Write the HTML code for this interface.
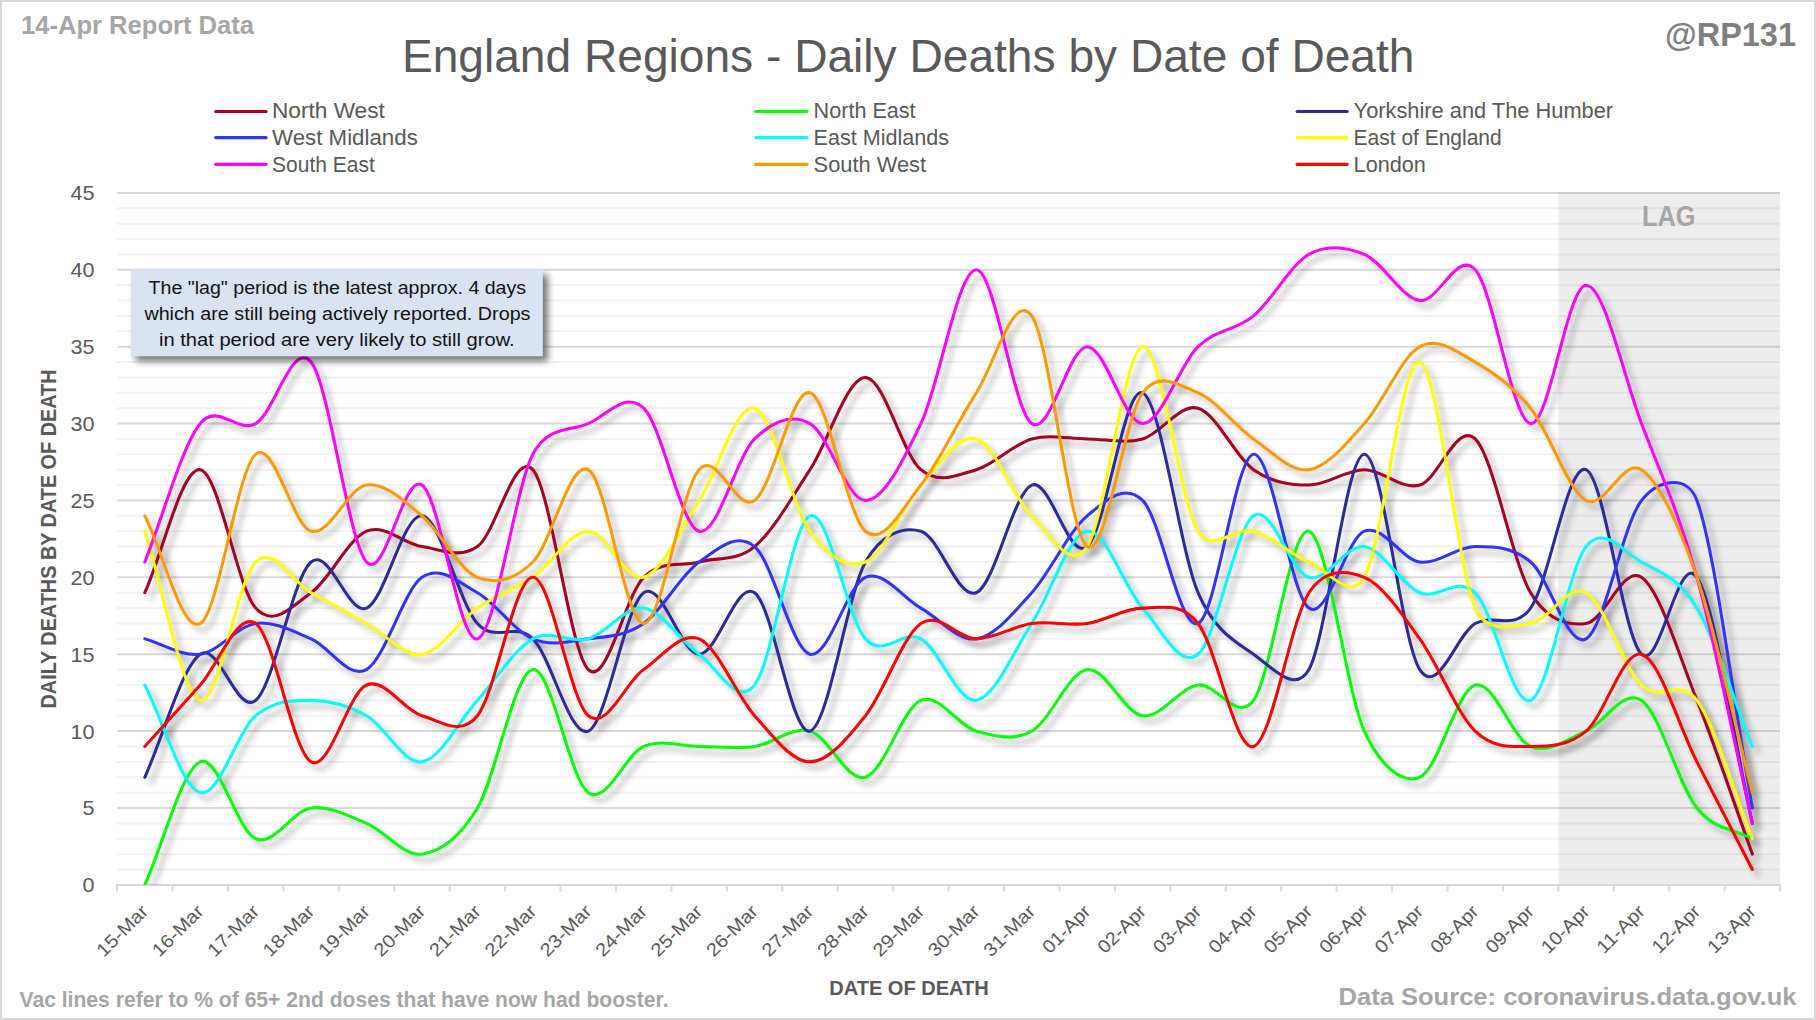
<!DOCTYPE html>
<html lang="en"><head><meta charset="utf-8"><title>England Regions - Daily Deaths by Date of Death</title>
<style>html,body{margin:0;padding:0;background:#fff;}body{width:1816px;height:1020px;overflow:hidden;}svg{display:block;}text{font-family:"Liberation Sans",sans-serif;}</style>
</head><body>
<svg width="1816" height="1020" viewBox="0 0 1816 1020">
<defs>
<filter id="sh" x="-5%" y="-5%" width="110%" height="115%" filterUnits="objectBoundingBox"><feGaussianBlur in="SourceAlpha" stdDeviation="3.3"/><feOffset dx="6" dy="5.5"/><feComponentTransfer><feFuncA type="linear" slope="0.31"/></feComponentTransfer></filter>
<filter id="boxsh" x="-10%" y="-20%" width="125%" height="150%"><feGaussianBlur in="SourceAlpha" stdDeviation="3.5"/><feOffset dx="5" dy="5"/><feComponentTransfer><feFuncA type="linear" slope="0.55"/></feComponentTransfer></filter>
</defs>
<rect x="0" y="0" width="1816" height="1020" fill="#FFFFFF"/>
<rect x="1" y="1" width="1814" height="1018" fill="none" stroke="#D9D9D9" stroke-width="2"/>
<path d="M117.1,869.52H1780.1 M117.1,854.14H1780.1 M117.1,838.77H1780.1 M117.1,823.39H1780.1 M117.1,792.63H1780.1 M117.1,777.26H1780.1 M117.1,761.88H1780.1 M117.1,746.50H1780.1 M117.1,715.74H1780.1 M117.1,700.37H1780.1 M117.1,684.99H1780.1 M117.1,669.61H1780.1 M117.1,638.86H1780.1 M117.1,623.48H1780.1 M117.1,608.10H1780.1 M117.1,592.72H1780.1 M117.1,561.97H1780.1 M117.1,546.59H1780.1 M117.1,531.21H1780.1 M117.1,515.83H1780.1 M117.1,485.08H1780.1 M117.1,469.70H1780.1 M117.1,454.32H1780.1 M117.1,438.94H1780.1 M117.1,408.19H1780.1 M117.1,392.81H1780.1 M117.1,377.43H1780.1 M117.1,362.06H1780.1 M117.1,331.30H1780.1 M117.1,315.92H1780.1 M117.1,300.54H1780.1 M117.1,285.17H1780.1 M117.1,254.41H1780.1 M117.1,239.03H1780.1 M117.1,223.66H1780.1 M117.1,208.28H1780.1" stroke="#F2F2F2" stroke-width="2" fill="none"/>
<path d="M117.1,808.01H1780.1 M117.1,731.12H1780.1 M117.1,654.23H1780.1 M117.1,577.34H1780.1 M117.1,500.46H1780.1 M117.1,423.57H1780.1 M117.1,346.68H1780.1 M117.1,269.79H1780.1 M117.1,192.90H1780.1" stroke="#D9D9D9" stroke-width="2" fill="none"/>
<rect x="1558.4" y="191.9" width="221.7" height="693.0" fill="#7F7F7F" fill-opacity="0.14"/>
<path d="M116.1,884.90H1781.1 M117.10,884.90V891.40 M172.53,884.90V891.40 M227.97,884.90V891.40 M283.40,884.90V891.40 M338.83,884.90V891.40 M394.27,884.90V891.40 M449.70,884.90V891.40 M505.13,884.90V891.40 M560.57,884.90V891.40 M616.00,884.90V891.40 M671.43,884.90V891.40 M726.87,884.90V891.40 M782.30,884.90V891.40 M837.73,884.90V891.40 M893.17,884.90V891.40 M948.60,884.90V891.40 M1004.03,884.90V891.40 M1059.47,884.90V891.40 M1114.90,884.90V891.40 M1170.33,884.90V891.40 M1225.77,884.90V891.40 M1281.20,884.90V891.40 M1336.63,884.90V891.40 M1392.07,884.90V891.40 M1447.50,884.90V891.40 M1502.93,884.90V891.40 M1558.37,884.90V891.40 M1613.80,884.90V891.40 M1669.23,884.90V891.40 M1724.67,884.90V891.40 M1780.10,884.90V891.40" stroke="#D9D9D9" stroke-width="2" fill="none"/>
<text x="1668.7" y="225.8" font-size="29" font-weight="bold" fill="#A6A6A6" text-anchor="middle" textLength="53.5" lengthAdjust="spacingAndGlyphs">LAG</text>
<clipPath id="plotclip"><rect x="115.1" y="152.9" width="1667.0" height="732.0"/></clipPath>
<g clip-path="url(#plotclip)">
<path d="M144.82,592.72 C163.29,551.71 181.77,467.14 200.25,469.70 C218.73,472.26 237.21,587.60 255.68,608.10 C274.16,628.60 292.64,605.54 311.12,592.72 C329.59,579.91 348.07,538.90 366.55,531.21 C385.03,523.52 403.51,544.03 421.98,546.59 C440.46,549.15 458.94,559.40 477.42,546.59 C495.89,533.77 514.37,449.20 532.85,469.70 C551.33,490.20 569.81,651.67 588.28,669.61 C606.76,687.55 625.24,595.29 643.72,577.34 C662.19,559.40 680.67,567.09 699.15,561.97 C717.63,556.84 736.11,561.97 754.58,546.59 C773.06,531.21 791.54,497.89 810.02,469.70 C828.49,441.51 846.97,377.43 865.45,377.43 C883.93,377.43 902.41,454.32 920.88,469.70 C939.36,485.08 957.84,474.83 976.32,469.70 C994.79,464.57 1013.27,444.07 1031.75,438.94 C1050.23,433.82 1068.71,438.94 1087.18,438.94 C1105.66,438.94 1124.14,444.07 1142.62,438.94 C1161.09,433.82 1179.57,403.06 1198.05,408.19 C1216.53,413.31 1235.01,456.89 1253.48,469.70 C1271.96,482.51 1290.44,485.08 1308.92,485.08 C1327.39,485.08 1345.87,469.70 1364.35,469.70 C1382.83,469.70 1401.31,490.20 1419.78,485.08 C1438.26,479.95 1456.74,421.00 1475.22,438.94 C1493.69,456.89 1512.17,561.97 1530.65,592.72 C1546.97,619.89 1567.61,626.04 1586.08,623.48 C1604.56,620.91 1623.04,564.53 1641.52,577.34 C1659.99,590.16 1678.47,654.23 1696.95,700.37 C1715.43,746.50 1733.91,802.89 1752.38,854.14" fill="none" stroke="#000" stroke-width="3.05" stroke-linecap="round" stroke-linejoin="round" filter="url(#sh)"/>
<path d="M144.82,884.90 C163.29,843.89 181.77,769.57 200.25,761.88 C218.73,754.19 237.21,831.08 255.68,838.77 C274.16,846.46 292.64,810.57 311.12,808.01 C329.59,805.45 348.07,815.70 366.55,823.39 C385.03,831.08 403.51,856.71 421.98,854.14 C440.46,851.58 458.94,838.77 477.42,808.01 C495.89,777.26 514.37,672.17 532.85,669.61 C551.33,667.05 569.81,779.82 588.28,792.63 C606.76,805.45 625.24,754.19 643.72,746.50 C662.19,738.81 680.67,746.50 699.15,746.50 C717.63,746.50 736.11,749.06 754.58,746.50 C773.06,743.94 791.54,726.00 810.02,731.12 C828.49,736.25 846.97,782.38 865.45,777.26 C883.93,772.13 902.41,708.06 920.88,700.37 C939.36,692.68 957.84,726.00 976.32,731.12 C994.79,736.25 1013.27,741.37 1031.75,731.12 C1050.23,720.87 1068.71,672.17 1087.18,669.61 C1105.66,667.05 1124.14,713.18 1142.62,715.74 C1161.09,718.31 1179.57,687.55 1198.05,684.99 C1216.53,682.43 1236.66,723.70 1253.48,700.37 C1271.96,674.74 1290.44,526.09 1308.92,531.21 C1327.39,536.34 1345.87,690.11 1364.35,731.12 C1379.16,764.00 1401.31,784.94 1419.78,777.26 C1438.26,769.57 1456.74,690.11 1475.22,684.99 C1493.69,679.86 1512.17,738.81 1530.65,746.50 C1549.13,754.19 1567.61,738.81 1586.08,731.12 C1604.56,723.43 1623.04,687.55 1641.52,700.37 C1659.99,713.18 1678.47,784.94 1696.95,808.01 C1715.43,831.08 1733.91,828.51 1752.38,838.77" fill="none" stroke="#000" stroke-width="3.05" stroke-linecap="round" stroke-linejoin="round" filter="url(#sh)"/>
<path d="M144.82,777.26 C163.29,736.25 181.77,667.05 200.25,654.23 C218.73,641.42 237.21,715.74 255.68,700.37 C274.16,684.99 292.64,577.34 311.12,561.97 C329.59,546.59 348.07,615.79 366.55,608.10 C385.03,600.41 403.51,513.27 421.98,515.83 C440.46,518.40 458.94,602.97 477.42,623.48 C495.89,643.98 514.37,620.91 532.85,638.86 C551.33,656.80 569.81,738.81 588.28,731.12 C606.76,723.43 625.24,605.54 643.72,592.72 C662.19,579.91 680.67,654.23 699.15,654.23 C717.63,654.23 736.11,579.91 754.58,592.72 C773.06,605.54 791.54,736.25 810.02,731.12 C828.49,726.00 846.97,595.29 865.45,561.97 C880.82,534.25 902.41,526.09 920.88,531.21 C939.36,536.34 957.84,600.41 976.32,592.72 C994.79,585.03 1013.27,492.77 1031.75,485.08 C1050.23,477.39 1068.71,561.97 1087.18,546.59 C1105.66,531.21 1124.14,385.12 1142.62,392.81 C1161.09,400.50 1179.57,549.15 1198.05,592.72 C1214.21,630.84 1235.01,641.42 1253.48,654.23 C1271.96,667.05 1294.97,694.77 1308.92,669.61 C1327.39,636.29 1345.87,454.32 1364.35,454.32 C1382.83,454.32 1401.31,641.42 1419.78,669.61 C1438.26,697.80 1456.74,633.73 1475.22,623.48 C1493.69,613.23 1513.83,631.43 1530.65,608.10 C1549.13,582.47 1567.61,462.01 1586.08,469.70 C1604.56,477.39 1623.04,636.29 1641.52,654.23 C1659.99,672.17 1678.47,549.15 1696.95,577.34 C1715.43,605.54 1733.91,741.37 1752.38,823.39" fill="none" stroke="#000" stroke-width="3.05" stroke-linecap="round" stroke-linejoin="round" filter="url(#sh)"/>
<path d="M144.82,638.86 C163.29,643.98 181.77,656.80 200.25,654.23 C218.73,651.67 237.21,626.04 255.68,623.48 C274.16,620.91 292.64,631.17 311.12,638.86 C329.59,646.54 348.07,679.86 366.55,669.61 C385.03,659.36 403.51,590.16 421.98,577.34 C440.46,564.53 458.94,582.47 477.42,592.72 C495.89,602.97 514.37,631.17 532.85,638.86 C551.33,646.54 569.81,641.42 588.28,638.86 C606.76,636.29 625.24,636.29 643.72,623.48 C662.19,610.66 680.67,574.78 699.15,561.97 C717.63,549.15 736.11,531.21 754.58,546.59 C773.06,561.97 791.54,649.11 810.02,654.23 C828.49,659.36 846.97,585.03 865.45,577.34 C883.93,569.66 902.41,597.85 920.88,608.10 C939.36,618.35 957.84,641.42 976.32,638.86 C994.79,636.29 1013.27,613.23 1031.75,592.72 C1050.23,572.22 1068.71,531.21 1087.18,515.83 C1105.66,500.46 1124.14,482.51 1142.62,500.46 C1161.09,518.40 1179.57,631.17 1198.05,623.48 C1216.53,615.79 1235.01,456.89 1253.48,454.32 C1271.96,451.76 1290.44,595.29 1308.92,608.10 C1327.39,620.91 1345.87,538.90 1364.35,531.21 C1382.83,523.52 1401.31,559.40 1419.78,561.97 C1438.26,564.53 1456.74,546.59 1475.22,546.59 C1493.69,546.59 1512.17,546.59 1530.65,561.97 C1549.13,577.34 1567.61,649.11 1586.08,638.86 C1604.56,628.60 1623.04,523.52 1641.52,500.46 C1658.85,478.82 1687.55,474.38 1696.95,500.46 C1715.43,551.71 1733.91,705.49 1752.38,808.01" fill="none" stroke="#000" stroke-width="3.05" stroke-linecap="round" stroke-linejoin="round" filter="url(#sh)"/>
<path d="M144.82,684.99 C163.29,720.87 181.77,787.51 200.25,792.63 C218.73,797.76 237.21,731.12 255.68,715.74 C274.16,700.37 292.64,700.37 311.12,700.37 C329.59,700.37 348.07,705.49 366.55,715.74 C385.03,726.00 403.51,764.44 421.98,761.88 C440.46,759.31 458.94,720.87 477.42,700.37 C495.89,679.86 514.37,649.11 532.85,638.86 C551.33,628.60 569.81,643.98 588.28,638.86 C606.76,633.73 625.24,605.54 643.72,608.10 C662.19,610.66 680.67,641.42 699.15,654.23 C717.63,667.05 736.11,708.06 754.58,684.99 C773.06,661.92 791.54,523.52 810.02,515.83 C828.49,508.14 846.97,618.35 865.45,638.86 C883.93,659.36 902.41,628.60 920.88,638.86 C939.36,649.11 957.84,702.93 976.32,700.37 C994.79,697.80 1013.27,651.67 1031.75,623.48 C1050.23,595.29 1068.71,533.77 1087.18,531.21 C1105.66,528.65 1124.14,587.60 1142.62,608.10 C1161.09,628.60 1179.57,669.61 1198.05,654.23 C1216.53,638.86 1235.01,528.65 1253.48,515.83 C1271.96,503.02 1290.44,572.22 1308.92,577.34 C1327.39,582.47 1345.87,544.03 1364.35,546.59 C1382.83,549.15 1401.31,585.03 1419.78,592.72 C1438.26,600.41 1456.74,574.78 1475.22,592.72 C1493.69,610.66 1512.17,708.06 1530.65,700.37 C1549.13,692.68 1567.61,569.66 1586.08,546.59 C1604.07,524.14 1623.04,551.71 1641.52,561.97 C1659.99,572.22 1678.47,577.34 1696.95,608.10 C1715.43,638.86 1733.91,700.37 1752.38,746.50" fill="none" stroke="#000" stroke-width="3.05" stroke-linecap="round" stroke-linejoin="round" filter="url(#sh)"/>
<path d="M144.82,531.21 C163.29,587.60 181.77,695.24 200.25,700.37 C218.73,705.49 237.21,579.91 255.68,561.97 C274.16,544.03 292.64,582.47 311.12,592.72 C329.59,602.97 348.07,613.23 366.55,623.48 C385.03,633.73 403.51,656.80 421.98,654.23 C440.46,651.67 458.94,620.91 477.42,608.10 C495.89,595.29 514.37,590.16 532.85,577.34 C551.33,564.53 569.81,531.21 588.28,531.21 C606.76,531.21 625.24,582.47 643.72,577.34 C662.19,572.22 680.67,528.65 699.15,500.46 C717.63,472.26 736.11,403.06 754.58,408.19 C773.06,413.31 791.54,505.58 810.02,531.21 C828.49,556.84 846.97,569.66 865.45,561.97 C883.93,554.28 902.41,505.58 920.88,485.08 C939.36,464.57 957.84,433.82 976.32,438.94 C994.79,444.07 1013.27,497.89 1031.75,515.83 C1050.23,533.77 1069.81,573.10 1087.18,546.59 C1105.66,518.40 1124.14,349.24 1142.62,346.68 C1161.09,344.11 1179.57,500.46 1198.05,531.21 C1212.32,554.97 1235.01,526.09 1253.48,531.21 C1271.96,536.34 1290.44,554.28 1308.92,561.97 C1327.39,569.66 1350.40,602.50 1364.35,577.34 C1382.83,544.03 1401.31,356.93 1419.78,362.06 C1438.26,367.18 1456.74,564.53 1475.22,608.10 C1486.45,634.58 1512.17,626.04 1530.65,623.48 C1549.13,620.91 1567.61,582.47 1586.08,592.72 C1604.56,602.97 1623.04,667.05 1641.52,684.99 C1659.99,702.93 1680.13,677.03 1696.95,700.37 C1715.43,726.00 1733.91,792.63 1752.38,838.77" fill="none" stroke="#000" stroke-width="3.05" stroke-linecap="round" stroke-linejoin="round" filter="url(#sh)"/>
<path d="M144.82,561.97 C163.29,515.83 181.77,446.63 200.25,423.57 C217.58,401.93 237.21,433.82 255.68,423.57 C274.16,413.31 292.64,338.99 311.12,362.06 C329.59,385.12 348.07,541.46 366.55,561.97 C385.03,582.47 403.51,472.26 421.98,485.08 C440.46,497.89 458.94,643.98 477.42,638.86 C495.89,633.73 514.37,490.20 532.85,454.32 C547.36,426.14 569.81,431.26 588.28,423.57 C606.76,415.88 625.24,390.25 643.72,408.19 C662.19,426.13 680.67,526.09 699.15,531.21 C717.63,536.34 736.11,456.89 754.58,438.94 C773.06,421.00 791.54,413.31 810.02,423.57 C828.49,433.82 846.97,500.46 865.45,500.46 C883.93,500.46 902.41,462.01 920.88,423.57 C939.36,385.12 957.84,269.79 976.32,269.79 C994.79,269.79 1013.27,410.75 1031.75,423.57 C1050.23,436.38 1068.71,346.68 1087.18,346.68 C1105.66,346.68 1124.14,423.57 1142.62,423.57 C1161.09,423.57 1179.57,364.62 1198.05,346.68 C1216.53,328.74 1235.01,331.30 1253.48,315.92 C1271.96,300.54 1290.44,264.66 1308.92,254.41 C1327.39,244.16 1345.87,246.72 1364.35,254.41 C1382.83,262.10 1401.31,297.98 1419.78,300.54 C1438.26,303.11 1456.74,249.29 1475.22,269.79 C1493.69,290.29 1512.17,421.00 1530.65,423.57 C1549.13,426.13 1567.61,285.17 1586.08,285.17 C1604.56,285.17 1623.04,374.87 1641.52,423.57 C1659.99,472.26 1678.47,510.71 1696.95,577.34 C1715.43,643.98 1733.91,741.37 1752.38,823.39" fill="none" stroke="#000" stroke-width="3.05" stroke-linecap="round" stroke-linejoin="round" filter="url(#sh)"/>
<path d="M144.82,515.83 C163.29,551.71 181.77,633.73 200.25,623.48 C218.73,613.23 237.21,469.70 255.68,454.32 C274.16,438.94 292.64,526.09 311.12,531.21 C329.59,536.34 348.07,487.64 366.55,485.08 C385.03,482.51 403.51,500.46 421.98,515.83 C440.46,531.21 458.94,569.66 477.42,577.34 C495.89,585.03 514.37,579.91 532.85,561.97 C551.33,544.03 569.81,459.45 588.28,469.70 C606.76,479.95 625.24,623.48 643.72,623.48 C662.19,623.48 680.67,490.20 699.15,469.70 C717.63,449.20 736.11,513.27 754.58,500.46 C773.06,487.64 791.54,387.69 810.02,392.81 C828.49,397.94 846.97,515.83 865.45,531.21 C883.93,546.59 902.41,508.14 920.88,485.08 C939.36,462.01 957.84,421.00 976.32,392.81 C994.79,364.62 1013.27,290.29 1031.75,315.92 C1050.23,341.55 1068.71,533.77 1087.18,546.59 C1105.66,559.40 1124.14,418.44 1142.62,392.81 C1158.83,370.33 1179.57,385.12 1198.05,392.81 C1216.53,400.50 1235.01,426.13 1253.48,438.94 C1271.96,451.76 1290.44,472.26 1308.92,469.70 C1327.39,467.14 1345.87,444.07 1364.35,423.57 C1382.83,403.06 1401.31,356.93 1419.78,346.68 C1438.26,336.43 1456.74,351.80 1475.22,362.06 C1493.69,372.31 1512.17,385.12 1530.65,408.19 C1549.13,431.26 1567.61,490.20 1586.08,500.46 C1604.56,510.71 1623.04,456.89 1641.52,469.70 C1659.99,482.51 1678.47,523.52 1696.95,577.34 C1715.43,631.17 1733.91,720.87 1752.38,792.63" fill="none" stroke="#000" stroke-width="3.05" stroke-linecap="round" stroke-linejoin="round" filter="url(#sh)"/>
<path d="M144.82,746.50 C163.29,726.00 181.77,705.49 200.25,684.99 C218.73,664.49 237.21,610.66 255.68,623.48 C274.16,636.29 292.64,751.63 311.12,761.88 C329.59,772.13 348.07,692.68 366.55,684.99 C385.03,677.30 403.51,710.62 421.98,715.74 C440.46,720.87 460.09,737.38 477.42,715.74 C495.89,692.68 514.37,577.34 532.85,577.34 C551.33,577.34 569.81,700.37 588.28,715.74 C606.76,731.12 625.24,682.43 643.72,669.61 C662.19,656.80 680.67,631.17 699.15,638.86 C717.63,646.54 736.11,695.24 754.58,715.74 C773.06,736.25 791.54,761.88 810.02,761.88 C828.49,761.88 846.97,738.81 865.45,715.74 C883.93,692.68 902.41,636.29 920.88,623.48 C939.36,610.66 957.84,638.86 976.32,638.86 C994.79,638.86 1013.27,626.04 1031.75,623.48 C1050.23,620.91 1068.71,626.04 1087.18,623.48 C1105.66,620.91 1124.14,608.10 1142.62,608.10 C1161.09,608.10 1180.07,601.03 1198.05,623.48 C1216.53,646.54 1235.01,751.63 1253.48,746.50 C1271.96,741.37 1290.44,620.91 1308.92,592.72 C1324.68,568.67 1345.87,569.66 1364.35,577.34 C1382.83,585.03 1401.31,613.23 1419.78,638.86 C1438.26,664.49 1456.74,713.18 1475.22,731.12 C1493.69,749.06 1512.17,746.50 1530.65,746.50 C1549.13,746.50 1567.61,746.50 1586.08,731.12 C1604.56,715.74 1623.04,649.11 1641.52,654.23 C1659.99,659.36 1678.47,726.00 1696.95,761.88 C1715.43,797.76 1733.91,833.64 1752.38,869.52" fill="none" stroke="#000" stroke-width="3.05" stroke-linecap="round" stroke-linejoin="round" filter="url(#sh)"/>
<path d="M144.82,592.72 C163.29,551.71 181.77,467.14 200.25,469.70 C218.73,472.26 237.21,587.60 255.68,608.10 C274.16,628.60 292.64,605.54 311.12,592.72 C329.59,579.91 348.07,538.90 366.55,531.21 C385.03,523.52 403.51,544.03 421.98,546.59 C440.46,549.15 458.94,559.40 477.42,546.59 C495.89,533.77 514.37,449.20 532.85,469.70 C551.33,490.20 569.81,651.67 588.28,669.61 C606.76,687.55 625.24,595.29 643.72,577.34 C662.19,559.40 680.67,567.09 699.15,561.97 C717.63,556.84 736.11,561.97 754.58,546.59 C773.06,531.21 791.54,497.89 810.02,469.70 C828.49,441.51 846.97,377.43 865.45,377.43 C883.93,377.43 902.41,454.32 920.88,469.70 C939.36,485.08 957.84,474.83 976.32,469.70 C994.79,464.57 1013.27,444.07 1031.75,438.94 C1050.23,433.82 1068.71,438.94 1087.18,438.94 C1105.66,438.94 1124.14,444.07 1142.62,438.94 C1161.09,433.82 1179.57,403.06 1198.05,408.19 C1216.53,413.31 1235.01,456.89 1253.48,469.70 C1271.96,482.51 1290.44,485.08 1308.92,485.08 C1327.39,485.08 1345.87,469.70 1364.35,469.70 C1382.83,469.70 1401.31,490.20 1419.78,485.08 C1438.26,479.95 1456.74,421.00 1475.22,438.94 C1493.69,456.89 1512.17,561.97 1530.65,592.72 C1546.97,619.89 1567.61,626.04 1586.08,623.48 C1604.56,620.91 1623.04,564.53 1641.52,577.34 C1659.99,590.16 1678.47,654.23 1696.95,700.37 C1715.43,746.50 1733.91,802.89 1752.38,854.14" fill="none" stroke="#A50021" stroke-width="3.05" stroke-linecap="round" stroke-linejoin="round"/>
<path d="M144.82,884.90 C163.29,843.89 181.77,769.57 200.25,761.88 C218.73,754.19 237.21,831.08 255.68,838.77 C274.16,846.46 292.64,810.57 311.12,808.01 C329.59,805.45 348.07,815.70 366.55,823.39 C385.03,831.08 403.51,856.71 421.98,854.14 C440.46,851.58 458.94,838.77 477.42,808.01 C495.89,777.26 514.37,672.17 532.85,669.61 C551.33,667.05 569.81,779.82 588.28,792.63 C606.76,805.45 625.24,754.19 643.72,746.50 C662.19,738.81 680.67,746.50 699.15,746.50 C717.63,746.50 736.11,749.06 754.58,746.50 C773.06,743.94 791.54,726.00 810.02,731.12 C828.49,736.25 846.97,782.38 865.45,777.26 C883.93,772.13 902.41,708.06 920.88,700.37 C939.36,692.68 957.84,726.00 976.32,731.12 C994.79,736.25 1013.27,741.37 1031.75,731.12 C1050.23,720.87 1068.71,672.17 1087.18,669.61 C1105.66,667.05 1124.14,713.18 1142.62,715.74 C1161.09,718.31 1179.57,687.55 1198.05,684.99 C1216.53,682.43 1236.66,723.70 1253.48,700.37 C1271.96,674.74 1290.44,526.09 1308.92,531.21 C1327.39,536.34 1345.87,690.11 1364.35,731.12 C1379.16,764.00 1401.31,784.94 1419.78,777.26 C1438.26,769.57 1456.74,690.11 1475.22,684.99 C1493.69,679.86 1512.17,738.81 1530.65,746.50 C1549.13,754.19 1567.61,738.81 1586.08,731.12 C1604.56,723.43 1623.04,687.55 1641.52,700.37 C1659.99,713.18 1678.47,784.94 1696.95,808.01 C1715.43,831.08 1733.91,828.51 1752.38,838.77" fill="none" stroke="#00FF00" stroke-width="3.05" stroke-linecap="round" stroke-linejoin="round"/>
<path d="M144.82,777.26 C163.29,736.25 181.77,667.05 200.25,654.23 C218.73,641.42 237.21,715.74 255.68,700.37 C274.16,684.99 292.64,577.34 311.12,561.97 C329.59,546.59 348.07,615.79 366.55,608.10 C385.03,600.41 403.51,513.27 421.98,515.83 C440.46,518.40 458.94,602.97 477.42,623.48 C495.89,643.98 514.37,620.91 532.85,638.86 C551.33,656.80 569.81,738.81 588.28,731.12 C606.76,723.43 625.24,605.54 643.72,592.72 C662.19,579.91 680.67,654.23 699.15,654.23 C717.63,654.23 736.11,579.91 754.58,592.72 C773.06,605.54 791.54,736.25 810.02,731.12 C828.49,726.00 846.97,595.29 865.45,561.97 C880.82,534.25 902.41,526.09 920.88,531.21 C939.36,536.34 957.84,600.41 976.32,592.72 C994.79,585.03 1013.27,492.77 1031.75,485.08 C1050.23,477.39 1068.71,561.97 1087.18,546.59 C1105.66,531.21 1124.14,385.12 1142.62,392.81 C1161.09,400.50 1179.57,549.15 1198.05,592.72 C1214.21,630.84 1235.01,641.42 1253.48,654.23 C1271.96,667.05 1294.97,694.77 1308.92,669.61 C1327.39,636.29 1345.87,454.32 1364.35,454.32 C1382.83,454.32 1401.31,641.42 1419.78,669.61 C1438.26,697.80 1456.74,633.73 1475.22,623.48 C1493.69,613.23 1513.83,631.43 1530.65,608.10 C1549.13,582.47 1567.61,462.01 1586.08,469.70 C1604.56,477.39 1623.04,636.29 1641.52,654.23 C1659.99,672.17 1678.47,549.15 1696.95,577.34 C1715.43,605.54 1733.91,741.37 1752.38,823.39" fill="none" stroke="#2B2B9B" stroke-width="3.05" stroke-linecap="round" stroke-linejoin="round"/>
<path d="M144.82,638.86 C163.29,643.98 181.77,656.80 200.25,654.23 C218.73,651.67 237.21,626.04 255.68,623.48 C274.16,620.91 292.64,631.17 311.12,638.86 C329.59,646.54 348.07,679.86 366.55,669.61 C385.03,659.36 403.51,590.16 421.98,577.34 C440.46,564.53 458.94,582.47 477.42,592.72 C495.89,602.97 514.37,631.17 532.85,638.86 C551.33,646.54 569.81,641.42 588.28,638.86 C606.76,636.29 625.24,636.29 643.72,623.48 C662.19,610.66 680.67,574.78 699.15,561.97 C717.63,549.15 736.11,531.21 754.58,546.59 C773.06,561.97 791.54,649.11 810.02,654.23 C828.49,659.36 846.97,585.03 865.45,577.34 C883.93,569.66 902.41,597.85 920.88,608.10 C939.36,618.35 957.84,641.42 976.32,638.86 C994.79,636.29 1013.27,613.23 1031.75,592.72 C1050.23,572.22 1068.71,531.21 1087.18,515.83 C1105.66,500.46 1124.14,482.51 1142.62,500.46 C1161.09,518.40 1179.57,631.17 1198.05,623.48 C1216.53,615.79 1235.01,456.89 1253.48,454.32 C1271.96,451.76 1290.44,595.29 1308.92,608.10 C1327.39,620.91 1345.87,538.90 1364.35,531.21 C1382.83,523.52 1401.31,559.40 1419.78,561.97 C1438.26,564.53 1456.74,546.59 1475.22,546.59 C1493.69,546.59 1512.17,546.59 1530.65,561.97 C1549.13,577.34 1567.61,649.11 1586.08,638.86 C1604.56,628.60 1623.04,523.52 1641.52,500.46 C1658.85,478.82 1687.55,474.38 1696.95,500.46 C1715.43,551.71 1733.91,705.49 1752.38,808.01" fill="none" stroke="#3333FF" stroke-width="3.05" stroke-linecap="round" stroke-linejoin="round"/>
<path d="M144.82,684.99 C163.29,720.87 181.77,787.51 200.25,792.63 C218.73,797.76 237.21,731.12 255.68,715.74 C274.16,700.37 292.64,700.37 311.12,700.37 C329.59,700.37 348.07,705.49 366.55,715.74 C385.03,726.00 403.51,764.44 421.98,761.88 C440.46,759.31 458.94,720.87 477.42,700.37 C495.89,679.86 514.37,649.11 532.85,638.86 C551.33,628.60 569.81,643.98 588.28,638.86 C606.76,633.73 625.24,605.54 643.72,608.10 C662.19,610.66 680.67,641.42 699.15,654.23 C717.63,667.05 736.11,708.06 754.58,684.99 C773.06,661.92 791.54,523.52 810.02,515.83 C828.49,508.14 846.97,618.35 865.45,638.86 C883.93,659.36 902.41,628.60 920.88,638.86 C939.36,649.11 957.84,702.93 976.32,700.37 C994.79,697.80 1013.27,651.67 1031.75,623.48 C1050.23,595.29 1068.71,533.77 1087.18,531.21 C1105.66,528.65 1124.14,587.60 1142.62,608.10 C1161.09,628.60 1179.57,669.61 1198.05,654.23 C1216.53,638.86 1235.01,528.65 1253.48,515.83 C1271.96,503.02 1290.44,572.22 1308.92,577.34 C1327.39,582.47 1345.87,544.03 1364.35,546.59 C1382.83,549.15 1401.31,585.03 1419.78,592.72 C1438.26,600.41 1456.74,574.78 1475.22,592.72 C1493.69,610.66 1512.17,708.06 1530.65,700.37 C1549.13,692.68 1567.61,569.66 1586.08,546.59 C1604.07,524.14 1623.04,551.71 1641.52,561.97 C1659.99,572.22 1678.47,577.34 1696.95,608.10 C1715.43,638.86 1733.91,700.37 1752.38,746.50" fill="none" stroke="#00FFFF" stroke-width="3.05" stroke-linecap="round" stroke-linejoin="round"/>
<path d="M144.82,531.21 C163.29,587.60 181.77,695.24 200.25,700.37 C218.73,705.49 237.21,579.91 255.68,561.97 C274.16,544.03 292.64,582.47 311.12,592.72 C329.59,602.97 348.07,613.23 366.55,623.48 C385.03,633.73 403.51,656.80 421.98,654.23 C440.46,651.67 458.94,620.91 477.42,608.10 C495.89,595.29 514.37,590.16 532.85,577.34 C551.33,564.53 569.81,531.21 588.28,531.21 C606.76,531.21 625.24,582.47 643.72,577.34 C662.19,572.22 680.67,528.65 699.15,500.46 C717.63,472.26 736.11,403.06 754.58,408.19 C773.06,413.31 791.54,505.58 810.02,531.21 C828.49,556.84 846.97,569.66 865.45,561.97 C883.93,554.28 902.41,505.58 920.88,485.08 C939.36,464.57 957.84,433.82 976.32,438.94 C994.79,444.07 1013.27,497.89 1031.75,515.83 C1050.23,533.77 1069.81,573.10 1087.18,546.59 C1105.66,518.40 1124.14,349.24 1142.62,346.68 C1161.09,344.11 1179.57,500.46 1198.05,531.21 C1212.32,554.97 1235.01,526.09 1253.48,531.21 C1271.96,536.34 1290.44,554.28 1308.92,561.97 C1327.39,569.66 1350.40,602.50 1364.35,577.34 C1382.83,544.03 1401.31,356.93 1419.78,362.06 C1438.26,367.18 1456.74,564.53 1475.22,608.10 C1486.45,634.58 1512.17,626.04 1530.65,623.48 C1549.13,620.91 1567.61,582.47 1586.08,592.72 C1604.56,602.97 1623.04,667.05 1641.52,684.99 C1659.99,702.93 1680.13,677.03 1696.95,700.37 C1715.43,726.00 1733.91,792.63 1752.38,838.77" fill="none" stroke="#FFFF00" stroke-width="3.05" stroke-linecap="round" stroke-linejoin="round"/>
<path d="M144.82,561.97 C163.29,515.83 181.77,446.63 200.25,423.57 C217.58,401.93 237.21,433.82 255.68,423.57 C274.16,413.31 292.64,338.99 311.12,362.06 C329.59,385.12 348.07,541.46 366.55,561.97 C385.03,582.47 403.51,472.26 421.98,485.08 C440.46,497.89 458.94,643.98 477.42,638.86 C495.89,633.73 514.37,490.20 532.85,454.32 C547.36,426.14 569.81,431.26 588.28,423.57 C606.76,415.88 625.24,390.25 643.72,408.19 C662.19,426.13 680.67,526.09 699.15,531.21 C717.63,536.34 736.11,456.89 754.58,438.94 C773.06,421.00 791.54,413.31 810.02,423.57 C828.49,433.82 846.97,500.46 865.45,500.46 C883.93,500.46 902.41,462.01 920.88,423.57 C939.36,385.12 957.84,269.79 976.32,269.79 C994.79,269.79 1013.27,410.75 1031.75,423.57 C1050.23,436.38 1068.71,346.68 1087.18,346.68 C1105.66,346.68 1124.14,423.57 1142.62,423.57 C1161.09,423.57 1179.57,364.62 1198.05,346.68 C1216.53,328.74 1235.01,331.30 1253.48,315.92 C1271.96,300.54 1290.44,264.66 1308.92,254.41 C1327.39,244.16 1345.87,246.72 1364.35,254.41 C1382.83,262.10 1401.31,297.98 1419.78,300.54 C1438.26,303.11 1456.74,249.29 1475.22,269.79 C1493.69,290.29 1512.17,421.00 1530.65,423.57 C1549.13,426.13 1567.61,285.17 1586.08,285.17 C1604.56,285.17 1623.04,374.87 1641.52,423.57 C1659.99,472.26 1678.47,510.71 1696.95,577.34 C1715.43,643.98 1733.91,741.37 1752.38,823.39" fill="none" stroke="#FF00FF" stroke-width="3.05" stroke-linecap="round" stroke-linejoin="round"/>
<path d="M144.82,515.83 C163.29,551.71 181.77,633.73 200.25,623.48 C218.73,613.23 237.21,469.70 255.68,454.32 C274.16,438.94 292.64,526.09 311.12,531.21 C329.59,536.34 348.07,487.64 366.55,485.08 C385.03,482.51 403.51,500.46 421.98,515.83 C440.46,531.21 458.94,569.66 477.42,577.34 C495.89,585.03 514.37,579.91 532.85,561.97 C551.33,544.03 569.81,459.45 588.28,469.70 C606.76,479.95 625.24,623.48 643.72,623.48 C662.19,623.48 680.67,490.20 699.15,469.70 C717.63,449.20 736.11,513.27 754.58,500.46 C773.06,487.64 791.54,387.69 810.02,392.81 C828.49,397.94 846.97,515.83 865.45,531.21 C883.93,546.59 902.41,508.14 920.88,485.08 C939.36,462.01 957.84,421.00 976.32,392.81 C994.79,364.62 1013.27,290.29 1031.75,315.92 C1050.23,341.55 1068.71,533.77 1087.18,546.59 C1105.66,559.40 1124.14,418.44 1142.62,392.81 C1158.83,370.33 1179.57,385.12 1198.05,392.81 C1216.53,400.50 1235.01,426.13 1253.48,438.94 C1271.96,451.76 1290.44,472.26 1308.92,469.70 C1327.39,467.14 1345.87,444.07 1364.35,423.57 C1382.83,403.06 1401.31,356.93 1419.78,346.68 C1438.26,336.43 1456.74,351.80 1475.22,362.06 C1493.69,372.31 1512.17,385.12 1530.65,408.19 C1549.13,431.26 1567.61,490.20 1586.08,500.46 C1604.56,510.71 1623.04,456.89 1641.52,469.70 C1659.99,482.51 1678.47,523.52 1696.95,577.34 C1715.43,631.17 1733.91,720.87 1752.38,792.63" fill="none" stroke="#FF9900" stroke-width="3.05" stroke-linecap="round" stroke-linejoin="round"/>
<path d="M144.82,746.50 C163.29,726.00 181.77,705.49 200.25,684.99 C218.73,664.49 237.21,610.66 255.68,623.48 C274.16,636.29 292.64,751.63 311.12,761.88 C329.59,772.13 348.07,692.68 366.55,684.99 C385.03,677.30 403.51,710.62 421.98,715.74 C440.46,720.87 460.09,737.38 477.42,715.74 C495.89,692.68 514.37,577.34 532.85,577.34 C551.33,577.34 569.81,700.37 588.28,715.74 C606.76,731.12 625.24,682.43 643.72,669.61 C662.19,656.80 680.67,631.17 699.15,638.86 C717.63,646.54 736.11,695.24 754.58,715.74 C773.06,736.25 791.54,761.88 810.02,761.88 C828.49,761.88 846.97,738.81 865.45,715.74 C883.93,692.68 902.41,636.29 920.88,623.48 C939.36,610.66 957.84,638.86 976.32,638.86 C994.79,638.86 1013.27,626.04 1031.75,623.48 C1050.23,620.91 1068.71,626.04 1087.18,623.48 C1105.66,620.91 1124.14,608.10 1142.62,608.10 C1161.09,608.10 1180.07,601.03 1198.05,623.48 C1216.53,646.54 1235.01,751.63 1253.48,746.50 C1271.96,741.37 1290.44,620.91 1308.92,592.72 C1324.68,568.67 1345.87,569.66 1364.35,577.34 C1382.83,585.03 1401.31,613.23 1419.78,638.86 C1438.26,664.49 1456.74,713.18 1475.22,731.12 C1493.69,749.06 1512.17,746.50 1530.65,746.50 C1549.13,746.50 1567.61,746.50 1586.08,731.12 C1604.56,715.74 1623.04,649.11 1641.52,654.23 C1659.99,659.36 1678.47,726.00 1696.95,761.88 C1715.43,797.76 1733.91,833.64 1752.38,869.52" fill="none" stroke="#FF0000" stroke-width="3.05" stroke-linecap="round" stroke-linejoin="round"/>
</g>
<rect x="130.9" y="269.5" width="411.9" height="86.8" fill="#000" filter="url(#boxsh)"/>
<rect x="130.9" y="269.5" width="411.9" height="86.8" fill="#DAE3F3"/>
<text x="148.6" y="293.8" font-size="18.7" fill="#111111" textLength="377.5" lengthAdjust="spacingAndGlyphs">The &quot;lag&quot; period is the latest approx. 4 days</text>
<text x="144.4" y="320.0" font-size="18.7" fill="#111111" textLength="386.1" lengthAdjust="spacingAndGlyphs">which are still being actively reported. Drops</text>
<text x="159.0" y="345.9" font-size="18.7" fill="#111111" textLength="355.7" lengthAdjust="spacingAndGlyphs">in that period are very likely to still grow.</text>
<text x="401.9" y="71.8" font-size="46" fill="#595959" textLength="1012.6" lengthAdjust="spacingAndGlyphs">England Regions - Daily Deaths by Date of Death</text>
<text x="21.0" y="33.9" font-size="24.9" font-weight="bold" fill="#A6A6A6" textLength="233" lengthAdjust="spacingAndGlyphs">14-Apr Report Data</text>
<text x="1665" y="46.3" font-size="32.3" font-weight="bold" fill="#7F7F7F" textLength="131" lengthAdjust="spacingAndGlyphs">@RP131</text>
<text x="19.5" y="1007.4" font-size="22" font-weight="bold" fill="#A6A6A6" textLength="649" lengthAdjust="spacingAndGlyphs">Vac lines refer to % of 65+ 2nd doses that have now had booster.</text>
<text x="1338.5" y="1005.4" font-size="23.8" font-weight="bold" fill="#A6A6A6" textLength="458" lengthAdjust="spacingAndGlyphs">Data Source: coronavirus.data.gov.uk</text>
<path d="M215.7,111.5H266.0" stroke="#A50021" stroke-width="3.2" stroke-linecap="round" fill="none"/>
<text x="272.0" y="118.4" font-size="21.2" fill="#595959" textLength="112.8" lengthAdjust="spacingAndGlyphs">North West</text>
<path d="M755.7,111.5H806.9" stroke="#00FF00" stroke-width="3.2" stroke-linecap="round" fill="none"/>
<text x="813.6" y="118.4" font-size="21.2" fill="#595959" textLength="102.0" lengthAdjust="spacingAndGlyphs">North East</text>
<path d="M1297.2,111.5H1347.1" stroke="#2B2B9B" stroke-width="3.2" stroke-linecap="round" fill="none"/>
<text x="1353.6" y="118.4" font-size="21.2" fill="#595959" textLength="259.5" lengthAdjust="spacingAndGlyphs">Yorkshire and The Humber</text>
<path d="M215.7,137.6H266.0" stroke="#3333FF" stroke-width="3.2" stroke-linecap="round" fill="none"/>
<text x="272.0" y="144.8" font-size="21.2" fill="#595959" textLength="145.8" lengthAdjust="spacingAndGlyphs">West Midlands</text>
<path d="M755.7,137.6H806.9" stroke="#00FFFF" stroke-width="3.2" stroke-linecap="round" fill="none"/>
<text x="813.6" y="144.8" font-size="21.2" fill="#595959" textLength="135.5" lengthAdjust="spacingAndGlyphs">East Midlands</text>
<path d="M1297.2,137.6H1347.1" stroke="#FFFF00" stroke-width="3.2" stroke-linecap="round" fill="none"/>
<text x="1353.6" y="144.8" font-size="21.2" fill="#595959" textLength="148.1" lengthAdjust="spacingAndGlyphs">East of England</text>
<path d="M215.7,164.3H266.0" stroke="#FF00FF" stroke-width="3.2" stroke-linecap="round" fill="none"/>
<text x="272.0" y="171.8" font-size="21.2" fill="#595959" textLength="102.9" lengthAdjust="spacingAndGlyphs">South East</text>
<path d="M755.7,164.3H806.9" stroke="#FF9900" stroke-width="3.2" stroke-linecap="round" fill="none"/>
<text x="813.6" y="171.8" font-size="21.2" fill="#595959" textLength="112.4" lengthAdjust="spacingAndGlyphs">South West</text>
<path d="M1297.2,164.3H1347.1" stroke="#FF0000" stroke-width="3.2" stroke-linecap="round" fill="none"/>
<text x="1353.6" y="171.8" font-size="21.2" fill="#595959" textLength="72.2" lengthAdjust="spacingAndGlyphs">London</text>
<text x="94.4" y="892.3" font-size="21" fill="#595959" text-anchor="end" textLength="12.0" lengthAdjust="spacingAndGlyphs">0</text>
<text x="94.4" y="815.4" font-size="21" fill="#595959" text-anchor="end" textLength="12.0" lengthAdjust="spacingAndGlyphs">5</text>
<text x="94.4" y="738.5" font-size="21" fill="#595959" text-anchor="end" textLength="24.0" lengthAdjust="spacingAndGlyphs">10</text>
<text x="94.4" y="661.6" font-size="21" fill="#595959" text-anchor="end" textLength="24.0" lengthAdjust="spacingAndGlyphs">15</text>
<text x="94.4" y="584.7" font-size="21" fill="#595959" text-anchor="end" textLength="24.0" lengthAdjust="spacingAndGlyphs">20</text>
<text x="94.4" y="507.9" font-size="21" fill="#595959" text-anchor="end" textLength="24.0" lengthAdjust="spacingAndGlyphs">25</text>
<text x="94.4" y="431.0" font-size="21" fill="#595959" text-anchor="end" textLength="24.0" lengthAdjust="spacingAndGlyphs">30</text>
<text x="94.4" y="354.1" font-size="21" fill="#595959" text-anchor="end" textLength="24.0" lengthAdjust="spacingAndGlyphs">35</text>
<text x="94.4" y="277.2" font-size="21" fill="#595959" text-anchor="end" textLength="24.0" lengthAdjust="spacingAndGlyphs">40</text>
<text x="94.4" y="200.3" font-size="21" fill="#595959" text-anchor="end" textLength="24.0" lengthAdjust="spacingAndGlyphs">45</text>
<text transform="translate(56.2,539) rotate(-90)" font-size="21.4" font-weight="bold" fill="#595959" text-anchor="middle" textLength="339" lengthAdjust="spacingAndGlyphs">DAILY DEATHS BY DATE OF DEATH</text>
<text x="909" y="994.6" font-size="20.4" font-weight="bold" fill="#595959" text-anchor="middle" textLength="159.5" lengthAdjust="spacingAndGlyphs">DATE OF DEATH</text>
<text transform="translate(149.3,912.5) rotate(-45)" font-size="18.4" fill="#595959" text-anchor="end" textLength="64.0" lengthAdjust="spacingAndGlyphs">15-Mar</text>
<text transform="translate(204.8,912.5) rotate(-45)" font-size="18.4" fill="#595959" text-anchor="end" textLength="64.0" lengthAdjust="spacingAndGlyphs">16-Mar</text>
<text transform="translate(260.2,912.5) rotate(-45)" font-size="18.4" fill="#595959" text-anchor="end" textLength="64.0" lengthAdjust="spacingAndGlyphs">17-Mar</text>
<text transform="translate(315.6,912.5) rotate(-45)" font-size="18.4" fill="#595959" text-anchor="end" textLength="64.0" lengthAdjust="spacingAndGlyphs">18-Mar</text>
<text transform="translate(371.0,912.5) rotate(-45)" font-size="18.4" fill="#595959" text-anchor="end" textLength="64.0" lengthAdjust="spacingAndGlyphs">19-Mar</text>
<text transform="translate(426.5,912.5) rotate(-45)" font-size="18.4" fill="#595959" text-anchor="end" textLength="64.0" lengthAdjust="spacingAndGlyphs">20-Mar</text>
<text transform="translate(481.9,912.5) rotate(-45)" font-size="18.4" fill="#595959" text-anchor="end" textLength="64.0" lengthAdjust="spacingAndGlyphs">21-Mar</text>
<text transform="translate(537.4,912.5) rotate(-45)" font-size="18.4" fill="#595959" text-anchor="end" textLength="64.0" lengthAdjust="spacingAndGlyphs">22-Mar</text>
<text transform="translate(592.8,912.5) rotate(-45)" font-size="18.4" fill="#595959" text-anchor="end" textLength="64.0" lengthAdjust="spacingAndGlyphs">23-Mar</text>
<text transform="translate(648.2,912.5) rotate(-45)" font-size="18.4" fill="#595959" text-anchor="end" textLength="64.0" lengthAdjust="spacingAndGlyphs">24-Mar</text>
<text transform="translate(703.6,912.5) rotate(-45)" font-size="18.4" fill="#595959" text-anchor="end" textLength="64.0" lengthAdjust="spacingAndGlyphs">25-Mar</text>
<text transform="translate(759.1,912.5) rotate(-45)" font-size="18.4" fill="#595959" text-anchor="end" textLength="64.0" lengthAdjust="spacingAndGlyphs">26-Mar</text>
<text transform="translate(814.5,912.5) rotate(-45)" font-size="18.4" fill="#595959" text-anchor="end" textLength="64.0" lengthAdjust="spacingAndGlyphs">27-Mar</text>
<text transform="translate(869.9,912.5) rotate(-45)" font-size="18.4" fill="#595959" text-anchor="end" textLength="64.0" lengthAdjust="spacingAndGlyphs">28-Mar</text>
<text transform="translate(925.4,912.5) rotate(-45)" font-size="18.4" fill="#595959" text-anchor="end" textLength="64.0" lengthAdjust="spacingAndGlyphs">29-Mar</text>
<text transform="translate(980.8,912.5) rotate(-45)" font-size="18.4" fill="#595959" text-anchor="end" textLength="64.0" lengthAdjust="spacingAndGlyphs">30-Mar</text>
<text transform="translate(1036.2,912.5) rotate(-45)" font-size="18.4" fill="#595959" text-anchor="end" textLength="64.0" lengthAdjust="spacingAndGlyphs">31-Mar</text>
<text transform="translate(1091.7,912.5) rotate(-45)" font-size="18.4" fill="#595959" text-anchor="end" textLength="59.5" lengthAdjust="spacingAndGlyphs">01-Apr</text>
<text transform="translate(1147.1,912.5) rotate(-45)" font-size="18.4" fill="#595959" text-anchor="end" textLength="59.5" lengthAdjust="spacingAndGlyphs">02-Apr</text>
<text transform="translate(1202.5,912.5) rotate(-45)" font-size="18.4" fill="#595959" text-anchor="end" textLength="59.5" lengthAdjust="spacingAndGlyphs">03-Apr</text>
<text transform="translate(1258.0,912.5) rotate(-45)" font-size="18.4" fill="#595959" text-anchor="end" textLength="59.5" lengthAdjust="spacingAndGlyphs">04-Apr</text>
<text transform="translate(1313.4,912.5) rotate(-45)" font-size="18.4" fill="#595959" text-anchor="end" textLength="59.5" lengthAdjust="spacingAndGlyphs">05-Apr</text>
<text transform="translate(1368.8,912.5) rotate(-45)" font-size="18.4" fill="#595959" text-anchor="end" textLength="59.5" lengthAdjust="spacingAndGlyphs">06-Apr</text>
<text transform="translate(1424.3,912.5) rotate(-45)" font-size="18.4" fill="#595959" text-anchor="end" textLength="59.5" lengthAdjust="spacingAndGlyphs">07-Apr</text>
<text transform="translate(1479.7,912.5) rotate(-45)" font-size="18.4" fill="#595959" text-anchor="end" textLength="59.5" lengthAdjust="spacingAndGlyphs">08-Apr</text>
<text transform="translate(1535.1,912.5) rotate(-45)" font-size="18.4" fill="#595959" text-anchor="end" textLength="59.5" lengthAdjust="spacingAndGlyphs">09-Apr</text>
<text transform="translate(1590.6,912.5) rotate(-45)" font-size="18.4" fill="#595959" text-anchor="end" textLength="59.5" lengthAdjust="spacingAndGlyphs">10-Apr</text>
<text transform="translate(1646.0,912.5) rotate(-45)" font-size="18.4" fill="#595959" text-anchor="end" textLength="59.5" lengthAdjust="spacingAndGlyphs">11-Apr</text>
<text transform="translate(1701.4,912.5) rotate(-45)" font-size="18.4" fill="#595959" text-anchor="end" textLength="59.5" lengthAdjust="spacingAndGlyphs">12-Apr</text>
<text transform="translate(1756.9,912.5) rotate(-45)" font-size="18.4" fill="#595959" text-anchor="end" textLength="59.5" lengthAdjust="spacingAndGlyphs">13-Apr</text>
</svg></body></html>
